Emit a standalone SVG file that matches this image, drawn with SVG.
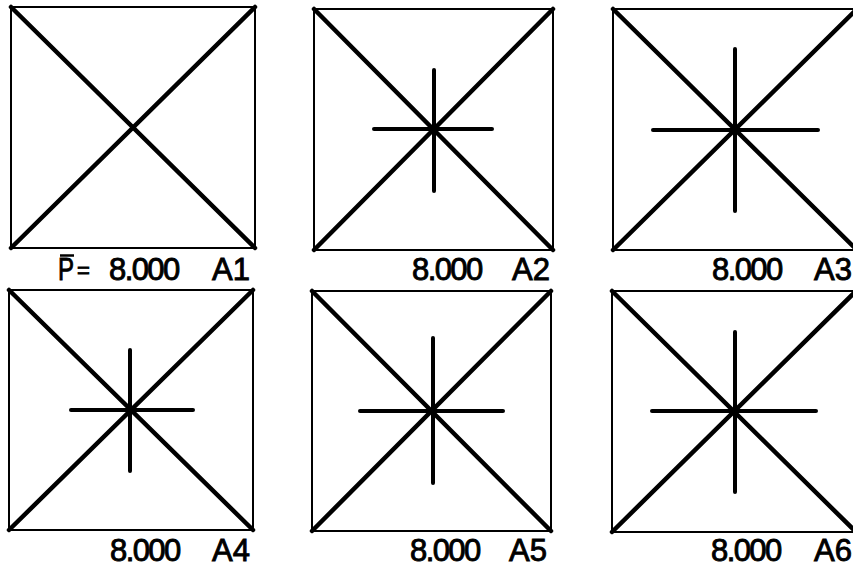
<svg xmlns="http://www.w3.org/2000/svg" width="853" height="570" viewBox="0 0 853 570">
<style>
.box{fill:none;stroke:#000;stroke-width:2}
.diag{stroke:#000;stroke-width:4.5;stroke-linecap:round}
.cross{stroke:#000;stroke-width:4;stroke-linecap:round}
.lbl{font-family:"Liberation Sans",Arial,sans-serif;font-size:31px;fill:#000;stroke:#000;stroke-width:0.9}
.num{letter-spacing:-1.6px}
</style>
<rect width="853" height="570" fill="#fff"/>
<g id="A1">
<rect class="box" x="11" y="7" width="244" height="241"/>
<line class="diag" x1="11" y1="7" x2="255" y2="248"/>
<line class="diag" x1="255" y1="7" x2="11" y2="248"/>
<line x1="60" y1="255.5" x2="74" y2="255.5" stroke="#000" stroke-width="2.5"/>
<text class="lbl" x="58" y="280" textLength="16" lengthAdjust="spacingAndGlyphs">P</text>
<text class="lbl" x="77" y="278" style="font-size:22px">=</text>
<text class="lbl num" x="109" y="280">8.000</text>
<text class="lbl" x="212" y="280">A1</text>
</g>
<g id="A2">
<rect class="box" x="314" y="9" width="239" height="241"/>
<line class="diag" x1="314" y1="9" x2="553" y2="250"/>
<line class="diag" x1="553" y1="9" x2="314" y2="250"/>
<line class="cross" x1="434" y1="70" x2="434" y2="191"/>
<line class="cross" x1="374" y1="129" x2="492" y2="129"/>
<text class="lbl num" x="412" y="280">8.000</text>
<text class="lbl" x="512" y="280">A2</text>
</g>
<g id="A3">
<rect class="box" x="613" y="9" width="244" height="241"/>
<line class="diag" x1="613" y1="9" x2="857" y2="250"/>
<line class="diag" x1="857" y1="9" x2="613" y2="250"/>
<line class="cross" x1="735" y1="49" x2="735" y2="211"/>
<line class="cross" x1="653" y1="130" x2="818" y2="130"/>
<text class="lbl num" x="712" y="280">8.000</text>
<text class="lbl" x="814" y="280">A3</text>
</g>
<g id="A4">
<rect class="box" x="9" y="290" width="244" height="240"/>
<line class="diag" x1="9" y1="290" x2="253" y2="530"/>
<line class="diag" x1="253" y1="290" x2="9" y2="530"/>
<line class="cross" x1="130" y1="350" x2="130" y2="471"/>
<line class="cross" x1="71" y1="410" x2="193" y2="410"/>
<text class="lbl num" x="110" y="561">8.000</text>
<text class="lbl" x="212" y="561">A4</text>
</g>
<g id="A5">
<rect class="box" x="312" y="291" width="239" height="240"/>
<line class="diag" x1="312" y1="291" x2="551" y2="531"/>
<line class="diag" x1="551" y1="291" x2="312" y2="531"/>
<line class="cross" x1="433" y1="338" x2="433" y2="483"/>
<line class="cross" x1="360" y1="411" x2="503" y2="411"/>
<text class="lbl num" x="410" y="561">8.000</text>
<text class="lbl" x="509" y="561">A5</text>
</g>
<g id="A6">
<rect class="box" x="612" y="291" width="244" height="241"/>
<line class="diag" x1="612" y1="291" x2="856" y2="532"/>
<line class="diag" x1="856" y1="291" x2="612" y2="532"/>
<line class="cross" x1="735" y1="332" x2="735" y2="492"/>
<line class="cross" x1="652" y1="411" x2="816" y2="411"/>
<text class="lbl num" x="711" y="561">8.000</text>
<text class="lbl" x="814" y="561">A6</text>
</g>
<g id="connectors"/>
</svg>
